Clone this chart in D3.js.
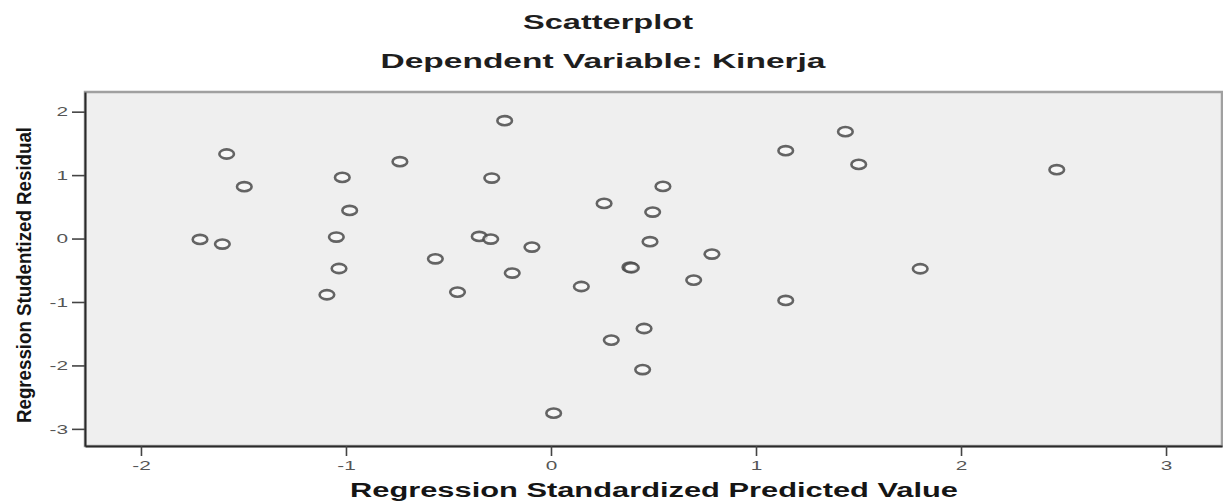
<!DOCTYPE html>
<html>
<head>
<meta charset="utf-8">
<script src="https://cdn.jsdelivr.net/npm/d3@7"></script>
<style>
body { margin: 0; background: #fff; }
text { font-family: "Liberation Sans", Arial, sans-serif; }
</style>
</head>
<body>
<script>
// regression standardized predicted value (x) and studentized residual (y)
var predicted = [-1.582, -0.737, -1.496, -1.018, -0.289, -0.226, -0.982, -1.712, -1.603, -1.047,
                 -0.350, -0.294, -0.564, -1.034, -0.456, -1.093, 1.145, 0.546, 0.259, 0.496,
                 -0.093, 0.483, 0.785, -0.189, 0.385, 0.392, 0.696, 0.148, 1.145, 1.436,
                 1.501, 2.467, 1.801, 0.454, 0.294, 0.447, 0.013];
var residual = [1.333, 1.211, 0.817, 0.964, 0.954, 1.858, 0.443, -0.014, -0.087, 0.024,
                0.033, -0.008, -0.319, -0.472, -0.844, -0.886, 1.385, 0.822, 0.554, 0.418,
                -0.134, -0.050, -0.244, -0.544, -0.452, -0.460, -0.655, -0.756, -0.976, 1.685,
                1.169, 1.085, -0.476, -1.418, -1.601, -2.065, -2.752];
var xTicks = [-2, -1, 0, 1, 2, 3];
var yTicks = [2, 1, 0, -1, -2, -3];

var width = 1223,
    height = 504;
// plot frame edges (note: "top" is a reserved window property, so use plotTop)
var plotLeft = 85, plotRight = 1222, plotTop = 92, plotBottom = 446;

var svg = d3.select("body").append("svg")
    .attr("width", width)
    .attr("height", height);

var x = d3.scaleLinear().domain([-2.273, 3.273]).range([plotLeft, plotRight]);
var y = d3.scaleLinear().domain([-3.27, 2.31]).range([plotBottom, plotTop]);

// titles
svg.append("text")
    .attr("x", 608).attr("y", 29)
    .attr("text-anchor", "middle")
    .attr("font-size", 19.5).attr("font-weight", "bold")
    .attr("fill", "#1e1e1e")
    .attr("textLength", 170).attr("lengthAdjust", "spacingAndGlyphs")
    .text("Scatterplot");
svg.append("text")
    .attr("x", 603).attr("y", 68)
    .attr("text-anchor", "middle")
    .attr("font-size", 19.5).attr("font-weight", "bold")
    .attr("fill", "#1e1e1e")
    .attr("textLength", 445).attr("lengthAdjust", "spacingAndGlyphs")
    .text("Dependent Variable: Kinerja");

// plot frame
svg.append("rect")
    .attr("x", plotLeft).attr("y", plotTop)
    .attr("width", plotRight - plotLeft).attr("height", plotBottom - plotTop)
    .style("fill", "#efefef")
    .style("stroke", "#a0a0a0")
    .style("stroke-width", 2.5);

// axes
var fmt = function (d) { return String(d); };
var xAxis = svg.append("g")
    .attr("transform", "translate(0," + plotBottom + ")")
    .call(d3.axisBottom(x).tickValues(xTicks).tickFormat(fmt).tickSize(10).tickSizeOuter(0).tickPadding(5));
var yAxis = svg.append("g")
    .attr("transform", "translate(" + plotLeft + ",0)")
    .call(d3.axisLeft(y).tickValues(yTicks).tickFormat(fmt).tickSize(13).tickSizeOuter(0).tickPadding(4));

[xAxis, yAxis].forEach(function (g) {
    g.select(".domain").style("stroke", "#2a2a2a").style("stroke-width", 2);
    g.selectAll(".tick line").style("stroke", "#444").style("stroke-width", 1.6);
    g.selectAll(".tick text")
        .attr("font-size", 13)
        .attr("fill", "#555")
        .style("font-family", "'Liberation Sans', Arial, sans-serif");
});
xAxis.selectAll(".tick text").attr("transform", "scale(1.6,1)");
yAxis.selectAll(".tick text").attr("x", -10.6).attr("transform", "scale(1.6,1)");

// axis titles
svg.append("text")
    .attr("x", 654).attr("y", 497)
    .attr("text-anchor", "middle")
    .attr("font-size", 19.5).attr("font-weight", "bold")
    .attr("fill", "#151515")
    .attr("textLength", 608).attr("lengthAdjust", "spacingAndGlyphs")
    .text("Regression Standardized Predicted Value");
svg.append("text")
    .attr("transform", "translate(31,275) scale(1.5,1) rotate(-90)")
    .attr("text-anchor", "middle")
    .attr("font-size", 13.5).attr("font-weight", "bold")
    .attr("fill", "#151515")
    .attr("textLength", 296).attr("lengthAdjust", "spacingAndGlyphs")
    .text("Regression Studentized Residual");

// points
var points = predicted.map(function (d, i) { return {x: d, y: residual[i]}; });
svg.append("g")
    .selectAll("ellipse")
    .data(points)
    .enter().append("ellipse")
    .attr("cx", function (d) { return x(d.x); })
    .attr("cy", function (d) { return y(d.y); })
    .attr("rx", 7.3)
    .attr("ry", 4.6)
    .style("fill", "#fbfbfb")
    .style("fill-opacity", 0.7)
    .style("stroke", "#4a4a4a")
    .style("stroke-opacity", 0.85)
    .style("stroke-width", 2.6);
</script>
</body>
</html>
